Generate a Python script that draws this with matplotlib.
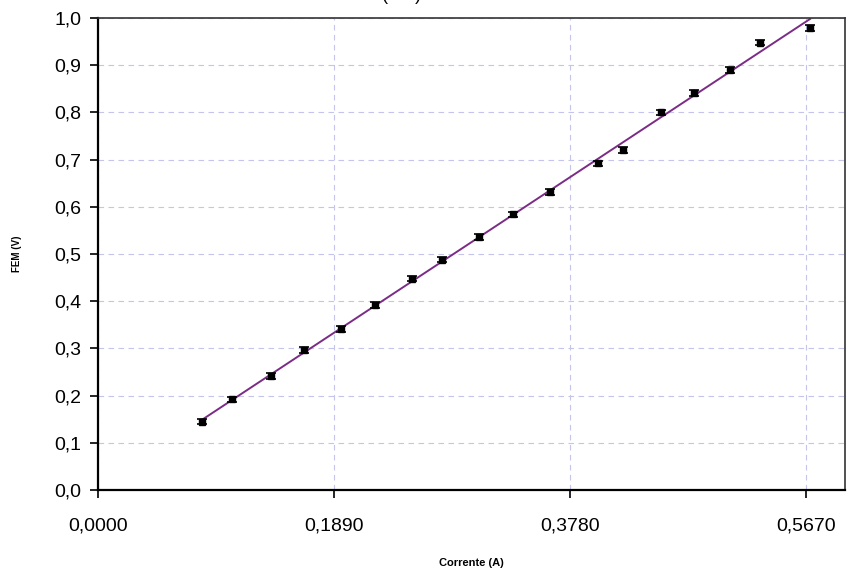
import matplotlib.pyplot as plt
import numpy as np

plt.rcParams["font.family"] = ["Liberation Sans", "DejaVu Sans"]

# Measured current (A) and EMF (V)
corrente = [0.0833, 0.1073, 0.1385, 0.1650, 0.1946, 0.2218, 0.2515, 0.2755, 0.3050,
            0.3320, 0.3620, 0.4000, 0.4200, 0.4510, 0.4770, 0.5060, 0.5300, 0.5700]
fem = [0.145, 0.192, 0.241, 0.296, 0.341, 0.392, 0.448, 0.488, 0.536,
       0.584, 0.631, 0.692, 0.721, 0.800, 0.841, 0.890, 0.948, 0.979]
erro_fem = 0.006

x_ticks = [0.0, 0.189, 0.378, 0.567]
x_labels = ["0,0000", "0,1890", "0,3780", "0,5670"]
y_ticks = [i / 10 for i in range(11)]
y_labels = [f"{v:.1f}".replace(".", ",") for v in y_ticks]

# linear trend line over the measured range
a, b = np.polyfit(corrente, fem, 1)
xs = np.array([corrente[0], corrente[-1]])

fig = plt.figure(figsize=(8.59, 5.74), dpi=100)
ax = fig.add_axes([98 / 859, 84 / 574, 747 / 859, 472 / 574])

ax.plot(xs, a * xs + b, color="#7b2c86", lw=1.4, zorder=2)
ax.errorbar(corrente, fem, yerr=erro_fem, fmt="s", color="black", ms=4,
            elinewidth=1.0, capsize=3.5, capthick=1.2, zorder=3)

ax.set_xlim(0, 0.598)
ax.set_ylim(0, 1.0)
ax.set_xticks(x_ticks, x_labels, fontsize=14)
ax.set_yticks(y_ticks, y_labels, fontsize=14)
ax.tick_params(direction="out", length=6, width=1.2, pad=6)
ax.tick_params(axis="x", pad=14)
ax.grid(True, color="#c4c4ec", ls=(0, (5, 4)), lw=0.8)

for side in ("left", "bottom"):
    ax.spines[side].set_linewidth(1.6)
for side in ("top", "right"):
    ax.spines[side].set_linewidth(1.2)
    ax.spines[side].set_color("#333333")

ax.set_xlabel("Corrente (A)", fontsize=8, fontweight="bold", labelpad=17)
ax.set_ylabel("FEM (V)", fontsize=7, fontweight="bold", labelpad=23)

# title cut off at the top edge
fig.text(0.462, 1.008, "I (mA)", ha="center", va="center", fontsize=13)
fig.text(-0.004, 0.93, "Tensão", rotation=90, ha="center", va="center",
         fontsize=13, fontweight="bold")

fig.savefig("out.png", dpi=100, facecolor="white")
